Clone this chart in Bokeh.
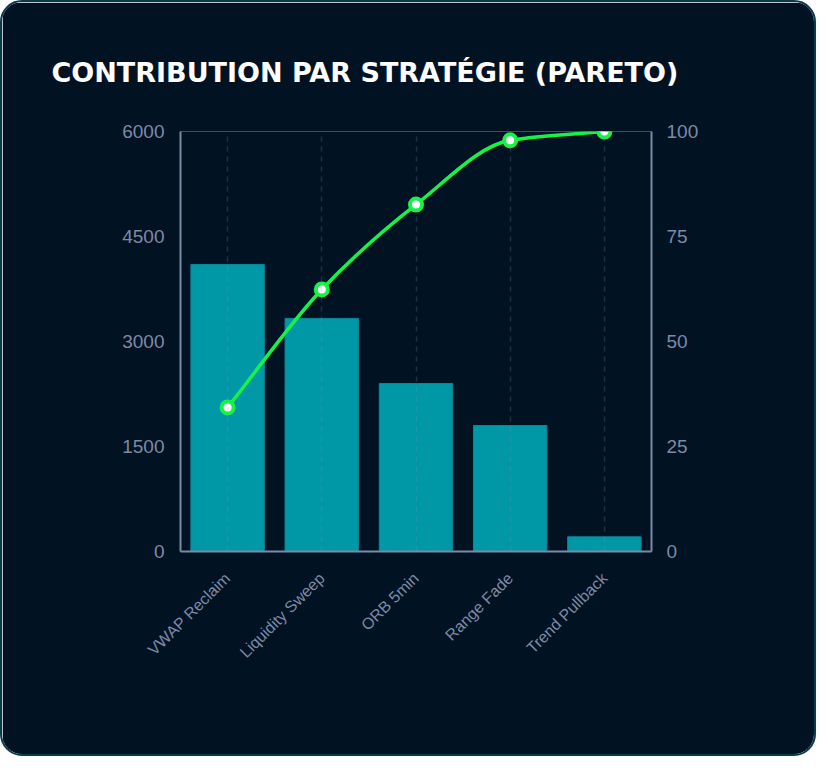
import math

from bokeh.plotting import figure
from bokeh.models import Range1d, LinearAxis, FixedTicker
from bokeh.embed import file_html
from bokeh.resources import INLINE

strategies = ["VWAP Reclaim", "Liquidity Sweep", "ORB 5min", "Range Fade", "Trend Pullback"]
contribution = [4100, 3330, 2400, 1800, 210]
cumulative_pct = [34.3, 62.4, 82.6, 97.9, 100.0]
left_ticks = [0, 1500, 3000, 4500, 6000]
right_ticks = [0, 25, 50, 75, 100]

BG = "#011223"
AXIS = "#7d8aa5"
TEAL = "#0097a7"
GREEN = "#17f247"
FONT = "Liberation Sans"

xs = [i + 0.5 for i in range(len(strategies))]

p = figure(frame_width=471, frame_height=420,
           min_border_left=178, min_border_right=163,
           min_border_top=129, min_border_bottom=203,
           x_range=Range1d(0, len(strategies)), y_range=Range1d(0, 6000),
           title="CONTRIBUTION PAR STRATÉGIE (PARETO)",
           tools="", toolbar_location=None, output_backend="svg",
           styles={"border": "2px solid #0b3a4d", "border-radius": "22px", "overflow": "hidden"})
p.background_fill_color = BG
p.border_fill_color = BG
p.outline_line_color = None

p.title.text_font = "DejaVu Sans"
p.title.text_font_style = "bold"
p.title.text_font_size = "27px"
p.title.text_color = "white"
p.title.align = "left"
p.title.offset = -129
p.title.standoff = 88

p.extra_y_ranges = {"pct": Range1d(0, 100)}

# axes
p.xaxis.ticker = FixedTicker(ticks=xs)
p.xaxis.major_label_overrides = {x: s for x, s in zip(xs, strategies)}
p.xaxis.major_label_orientation = math.pi / 4
p.xaxis.major_label_text_font_size = "16px"
p.xaxis.major_label_standoff = 24
p.yaxis.ticker = FixedTicker(ticks=left_ticks)
p.yaxis.major_label_text_font_size = "19px"
p.yaxis.major_label_standoff = 16

right = LinearAxis(y_range_name="pct", ticker=FixedTicker(ticks=right_ticks))
right.major_label_text_font_size = "19px"
right.major_label_standoff = 15
p.add_layout(right, "right")

for ax in p.axis:
    ax.axis_line_color = AXIS
    ax.axis_line_width = 2
    ax.major_tick_line_color = None
    ax.major_tick_out = 0
    ax.major_tick_in = 0
    ax.minor_tick_line_color = None
    ax.major_label_text_color = AXIS
    ax.major_label_text_font = FONT

# grid
p.xgrid.ticker = FixedTicker(ticks=xs)
p.ygrid.ticker = FixedTicker(ticks=[6000])
for g in (p.xgrid, p.ygrid):
    g.grid_line_color = "#8a9ab5"
    g.grid_line_alpha = 0.22
    g.grid_line_dash = "5 5"
    g.grid_line_width = 1.5
p.xgrid.level = "overlay"

p.vbar(x=xs, top=contribution, width=0.78, fill_color=TEAL, line_color="#0b8595", line_width=1)

# smooth cumulative line (monotone cubic through the points)
n = len(xs)
d = [(cumulative_pct[i + 1] - cumulative_pct[i]) / (xs[i + 1] - xs[i]) for i in range(n - 1)]
m = [d[0]] + [0.0] * (n - 2) + [d[-1]]
for i in range(1, n - 1):
    if d[i - 1] * d[i] > 0:
        m[i] = 2 * d[i - 1] * d[i] / (d[i - 1] + d[i])
h = [(xs[i + 1] - xs[i]) / 3 for i in range(n - 1)]
p.bezier(x0=xs[:-1], y0=cumulative_pct[:-1], x1=xs[1:], y1=cumulative_pct[1:],
         cx0=[xs[i] + h[i] for i in range(n - 1)],
         cy0=[cumulative_pct[i] + m[i] * h[i] for i in range(n - 1)],
         cx1=[xs[i + 1] - h[i] for i in range(n - 1)],
         cy1=[cumulative_pct[i + 1] - m[i + 1] * h[i] for i in range(n - 1)],
         line_color=GREEN, line_width=3.5, y_range_name="pct")
p.scatter(xs, cumulative_pct, size=12, fill_color="white", line_color=GREEN, line_width=4,
          y_range_name="pct")

open("out.html", "w").write(file_html(p, INLINE))
